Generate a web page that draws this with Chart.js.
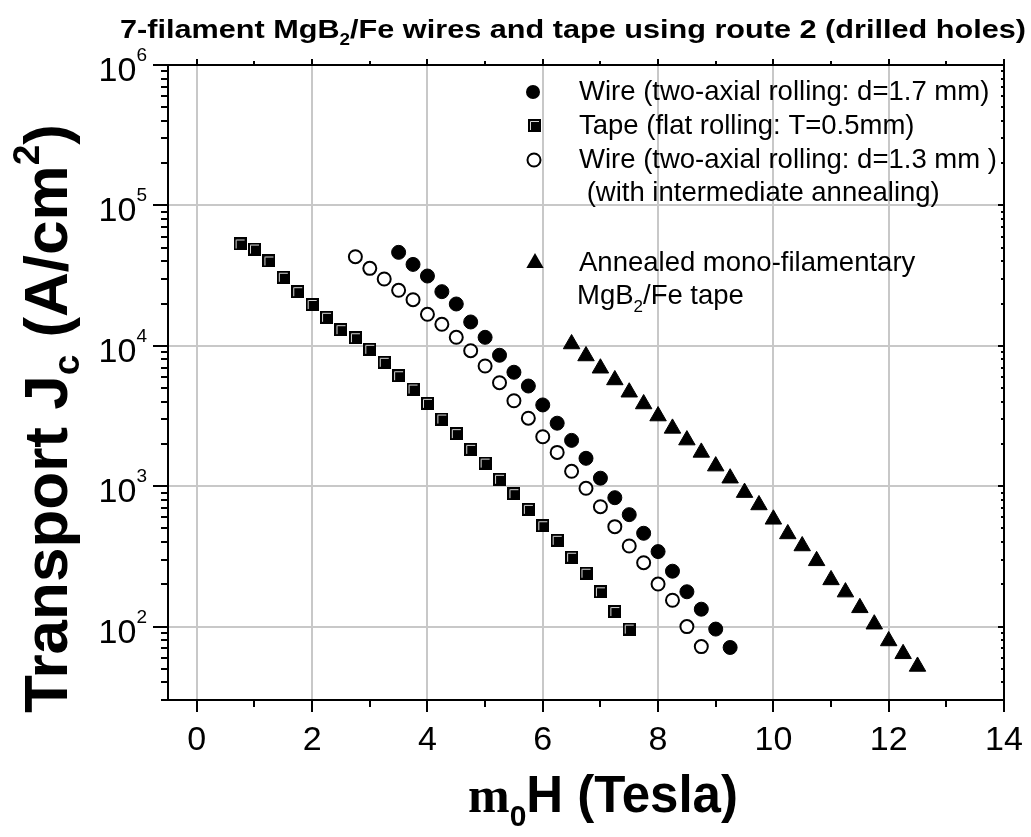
<!DOCTYPE html>
<html>
<head>
<meta charset="utf-8">
<script src="https://cdn.jsdelivr.net/npm/chart.js@4.4.1/dist/chart.umd.min.js"></script>
<style>
  html, body { margin: 0; padding: 0; background: #fff; }
  canvas { display: block; }
</style>
</head>
<body>
<canvas id="graficoJc" width="1031" height="837"></canvas>
<script>
// ---------- dados ----------
// campo (T) e Jc (A/cm2) para cada série
const tapeField = [0.75, 1.0, 1.25, 1.5, 1.75, 2.0, 2.25, 2.5, 2.75, 3.0, 3.25, 3.5, 3.75, 4.0,
                   4.25, 4.5, 4.75, 5.0, 5.25, 5.5, 5.75, 6.0, 6.25, 6.5, 6.75, 7.0, 7.25, 7.5];
const tapeJc = [53100, 48900, 40200, 30800, 24300, 19700, 15970, 13030, 11420, 9440, 7630, 6120, 4920, 3890,
                3010, 2370, 1830, 1460, 1120, 885, 684, 523, 412, 312, 240, 177, 128, 96];

const wire17Field = [3.5, 3.75, 4.0, 4.25, 4.5, 4.75, 5.0, 5.25, 5.5, 5.75, 6.0, 6.25,
                     6.5, 6.75, 7.0, 7.25, 7.5, 7.75, 8.0, 8.25, 8.5, 8.75, 9.0, 9.25];
const wire17Jc = [46300, 38000, 31400, 24300, 19850, 14780, 11490, 8560, 6480, 5170, 3790, 2810,
                  2120, 1580, 1140, 828, 627, 462, 342, 248, 177, 133, 96, 71];

const wire13Field = [2.75, 3.0, 3.25, 3.5, 3.75, 4.0, 4.25, 4.5, 4.75, 5.0, 5.25, 5.5, 5.75,
                     6.0, 6.25, 6.5, 6.75, 7.0, 7.25, 7.5, 7.75, 8.0, 8.25, 8.5, 8.75];
const wire13Jc = [43100, 35600, 29900, 24850, 21300, 16760, 14230, 11500, 9230, 7180, 5460, 4060, 3050,
                  2250, 1740, 1277, 966, 714, 515, 375, 285, 201, 154, 100, 72];

const monoField = [6.5, 6.75, 7.0, 7.25, 7.5, 7.75, 8.0, 8.25, 8.5, 8.75, 9.0, 9.25, 9.5,
                   9.75, 10.0, 10.25, 10.5, 10.75, 11.0, 11.25, 11.5, 11.75, 12.0, 12.25, 12.5];
const monoJc = [10300, 8460, 6920, 5710, 4670, 3850, 3160, 2580, 2130, 1740, 1390, 1140, 900,
                735, 581, 457, 375, 294, 215, 176, 136, 104, 79, 64, 52];

const xTicks = [0, 2, 4, 6, 8, 10, 12, 14];
const yTicks = [1e2, 1e3, 1e4, 1e5, 1e6];

const legendLines = [
  "Wire (two-axial rolling: d=1.7 mm)",
  "Tape (flat rolling: T=0.5mm)",
  "Wire (two-axial rolling: d=1.3 mm )",
  " (with intermediate annealing)",
  "Annealed mono-filamentary"
];

const SANS = '"Liberation Sans", Arial, sans-serif';

// quadrado preto com o brilho em "Γ" do original
function makeSquare(size) {
  const c = document.createElement("canvas");
  c.width = size; c.height = size;
  const g = c.getContext("2d");
  g.fillStyle = "#000";
  g.fillRect(0, 0, size, size);
  g.strokeStyle = "#d8d8d8";
  g.lineWidth = 1;
  g.beginPath();
  g.moveTo(2.5, size - 2);
  g.lineTo(2.5, 2.5);
  g.lineTo(size - 2, 2.5);
  g.stroke();
  return c;
}
const squareImg = makeSquare(13);

const pts = (xs, ys) => xs.map((v, i) => ({ x: v, y: ys[i] }));

// desenha pedaços de texto em sequência (sub/sobrescrito)
function drawRuns(ctx, x, y, runs) {
  let cx = x;
  runs.forEach(r => {
    ctx.font = r.font;
    ctx.fillText(r.t, cx, y + (r.dy || 0));
    cx += ctx.measureText(r.t).width;
  });
  return cx - x;
}
function runsWidth(ctx, runs) {
  let w = 0;
  runs.forEach(r => { ctx.font = r.font; w += ctx.measureText(r.t).width; });
  return w;
}

// ---------- eixos, rótulos, títulos e legenda ----------
const moldura = {
  id: "moldura",
  afterDraw(chart) {
    const { ctx, chartArea: a, scales: { x, y } } = chart;
    ctx.save();
    ctx.strokeStyle = "#000";
    ctx.fillStyle = "#000";
    ctx.lineWidth = 2;
    ctx.strokeRect(a.left, a.top, a.right - a.left, a.bottom - a.top);

    // marcas do eixo x (principais a cada 2, secundárias a cada 1)
    ctx.beginPath();
    for (let v = 0; v <= 14; v++) {
      const px = Math.round(x.getPixelForValue(v));
      const major = v % 2 === 0;
      ctx.moveTo(px, a.bottom); ctx.lineTo(px, a.bottom + (major ? 12 : 7));
      ctx.moveTo(px, a.top); ctx.lineTo(px, a.top - (major ? 6 : 4));
    }
    // marcas do eixo y (log)
    for (let e = 1; e <= 6; e++) {
      for (let m = 1; m <= 9; m++) {
        const v = m * Math.pow(10, e);
        if (v < 30 || v > 1e6) continue;
        const py = Math.round(y.getPixelForValue(v));
        const len = m === 1 ? 15 : 7;
        ctx.moveTo(a.left, py); ctx.lineTo(a.left - len, py);
        ctx.moveTo(a.right, py); ctx.lineTo(a.right - (m === 1 ? 6 : 3), py);
      }
    }
    ctx.stroke();

    // rótulos x
    ctx.font = "34px " + SANS;
    ctx.textAlign = "center";
    ctx.textBaseline = "alphabetic";
    xTicks.forEach(v => ctx.fillText(String(v), x.getPixelForValue(v), a.bottom + 50));

    // rótulos y: 10^n
    ctx.textAlign = "left";
    yTicks.forEach(v => {
      const py = y.getPixelForValue(v);
      const ex = String(Math.round(Math.log10(v)));
      ctx.font = "34px " + SANS;
      const w10 = ctx.measureText("10").width;
      ctx.font = "19px " + SANS;
      const wEx = ctx.measureText(ex).width;
      const right = a.left - 21;
      ctx.font = "34px " + SANS;
      ctx.fillText("10", right - wEx - w10, py + 16);
      ctx.font = "19px " + SANS;
      ctx.fillText(ex, right - wEx, py - 4);
    });

    // título do eixo y
    ctx.save();
    ctx.translate(67, 713);
    ctx.rotate(-Math.PI / 2);
    const B = "bold 62px " + SANS, b = "bold 37px " + SANS;
    drawRuns(ctx, 0, 0, [
      { t: "Transport J", font: B },
      { t: "c", font: b, dy: 12 },
      { t: " (A/cm", font: B },
      { t: "2", font: b, dy: -28 },
      { t: ")", font: B }
    ]);
    ctx.restore();

    // título do eixo x
    const xRuns = [
      { t: "m", font: 'bold 50px "Liberation Serif", serif' },
      { t: "0", font: "bold 30px " + SANS, dy: 14 },
      { t: "H (Tesla)", font: "bold 51px " + SANS }
    ];
    const xw = runsWidth(ctx, xRuns);
    drawRuns(ctx, 603 - xw / 2, 812, xRuns);

    // título do gráfico (fonte estreita)
    const tRuns = [
      { t: "7-filament MgB", font: "bold 26px " + SANS },
      { t: "2", font: "bold 16px " + SANS, dy: 7 },
      { t: "/Fe wires and tape using route 2 (drilled holes)", font: "bold 26px " + SANS }
    ];
    const tw = runsWidth(ctx, tRuns);
    ctx.save();
    ctx.translate(120, 38);
    ctx.scale(906 / tw, 1);
    drawRuns(ctx, 0, 0, tRuns);
    ctx.restore();

    // legenda
    ctx.font = "27.5px " + SANS;
    const lx = 579;
    const baselines = [100, 134, 168, 201, 271];
    legendLines.forEach((t, i) => ctx.fillText(t, lx, baselines[i]));
    drawRuns(ctx, 577, 304, [
      { t: "MgB", font: "27.5px " + SANS },
      { t: "2", font: "17px " + SANS, dy: 8 },
      { t: "/Fe tape", font: "27.5px " + SANS }
    ]);
    // símbolos da legenda
    ctx.beginPath(); ctx.arc(533, 92, 7, 0, Math.PI * 2); ctx.fill();
    ctx.drawImage(squareImg, 528, 119);
    ctx.beginPath(); ctx.arc(534, 160, 6.5, 0, Math.PI * 2);
    ctx.fillStyle = "#fff"; ctx.fill(); ctx.lineWidth = 2; ctx.stroke();
    ctx.fillStyle = "#000";
    const r = 10, tx = 535, ty = 263;
    ctx.beginPath();
    ctx.moveTo(tx, ty - r);
    ctx.lineTo(tx + r * 0.866, ty + r / 2);
    ctx.lineTo(tx - r * 0.866, ty + r / 2);
    ctx.closePath(); ctx.fill();

    ctx.restore();
  }
};

// ---------- gráfico ----------
new Chart(document.getElementById("graficoJc"), {
  type: "scatter",
  data: {
    datasets: [
      {
        label: "Tape (flat rolling: T=0.5mm)",
        data: pts(tapeField, tapeJc),
        pointStyle: squareImg,
        pointRadius: 6
      },
      {
        label: "Wire (two-axial rolling: d=1.3 mm)",
        data: pts(wire13Field, wire13Jc),
        pointStyle: "circle",
        pointRadius: 6.5,
        backgroundColor: "#fff",
        borderColor: "#000",
        borderWidth: 2
      },
      {
        label: "Wire (two-axial rolling: d=1.7 mm)",
        data: pts(wire17Field, wire17Jc),
        pointStyle: "circle",
        pointRadius: 7,
        backgroundColor: "#000",
        borderColor: "#000",
        borderWidth: 1
      },
      {
        label: "Annealed mono-filamentary MgB2/Fe tape",
        data: pts(monoField, monoJc),
        pointStyle: "triangle",
        pointRadius: 9.5,
        backgroundColor: "#000",
        borderColor: "#000",
        borderWidth: 1
      }
    ]
  },
  options: {
    responsive: false,
    animation: false,
    devicePixelRatio: 1,
    layout: { padding: { left: 168, top: 65, right: 27, bottom: 137 } },
    plugins: { legend: { display: false }, tooltip: { enabled: false } },
    scales: {
      x: {
        type: "linear",
        min: -0.5,
        max: 14,
        afterBuildTicks: s => { s.ticks = xTicks.map(v => ({ value: v })); },
        ticks: { display: false },
        grid: { color: "#c8c8c8", lineWidth: 2, drawTicks: false },
        border: { display: false }
      },
      y: {
        type: "logarithmic",
        min: 30,
        max: 1e6,
        afterBuildTicks: s => { s.ticks = yTicks.map(v => ({ value: v })); },
        ticks: { display: false },
        grid: { color: "#c8c8c8", lineWidth: 2, drawTicks: false },
        border: { display: false }
      }
    }
  },
  plugins: [moldura]
});
</script>
</body>
</html>
